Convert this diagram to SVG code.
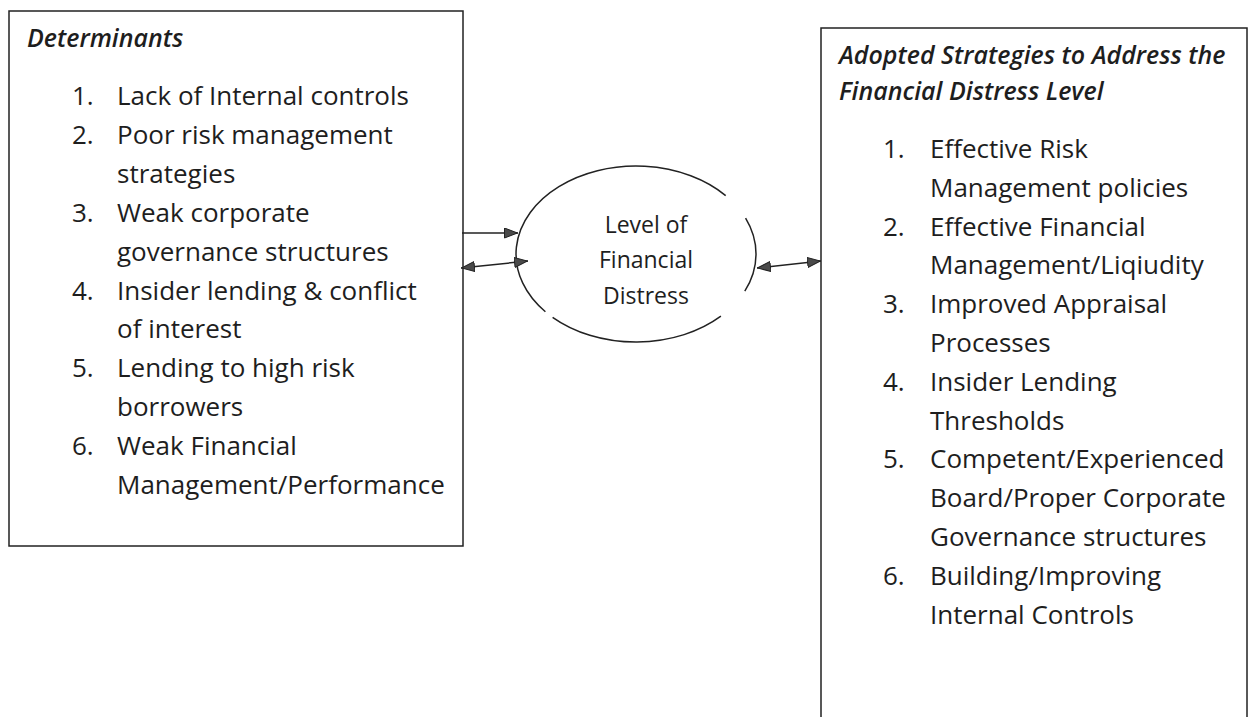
<svg xmlns="http://www.w3.org/2000/svg" width="1251" height="717" viewBox="0 0 1251 717">
<style>
text{font-family:"Open Sans","Liberation Sans",sans-serif;fill:#1e1e1e;font-size:26px}
.h{font-style:italic;font-weight:600;font-size:25px}
.c{font-size:23px;text-anchor:middle}
.box{fill:#fff;stroke:#222;stroke-width:1.5}
.ln{fill:none;stroke:#222;stroke-width:1.5}
</style>
<defs>
<marker id="ah" viewBox="0 0 14 11" refX="14" refY="5.5" markerWidth="14" markerHeight="11" markerUnits="userSpaceOnUse" orient="auto-start-reverse">
<path d="M0.5,0.5 L13.5,5.5 L0.5,10.5 Z" fill="#4a4a4a" stroke="#222" stroke-width="1"/>
</marker>
</defs>
<rect width="1251" height="717" fill="#fff"/>
<g id="determinants">
<rect class="box" x="9" y="11" width="454" height="535"/>
<text class="h" x="27" y="47">Determinants</text>
<text x="72" y="105">1.</text><text x="117" y="105">Lack of Internal controls</text>
<text x="72" y="144">2.</text><text x="117" y="144">Poor risk management</text>
<text x="117" y="183">strategies</text>
<text x="72" y="222">3.</text><text x="117" y="222">Weak corporate</text>
<text x="117" y="261">governance structures</text>
<text x="72" y="300">4.</text><text x="117" y="300">Insider lending &amp; conflict</text>
<text x="117" y="338">of interest</text>
<text x="72" y="377">5.</text><text x="117" y="377">Lending to high risk</text>
<text x="117" y="416">borrowers</text>
<text x="72" y="455">6.</text><text x="117" y="455">Weak Financial</text>
<text x="117" y="494">Management/Performance</text>
</g>
<g id="strategies">
<rect class="box" x="821" y="28" width="426" height="700"/>
<text class="h" x="839" y="64">Adopted Strategies to Address the</text>
<text class="h" x="839" y="100">Financial Distress Level</text>
<text x="883" y="158">1.</text><text x="930" y="158">Effective Risk</text>
<text x="930" y="197">Management policies</text>
<text x="883" y="236">2.</text><text x="930" y="236">Effective Financial</text>
<text x="930" y="274">Management/Liqiudity</text>
<text x="883" y="313">3.</text><text x="930" y="313">Improved Appraisal</text>
<text x="930" y="352">Processes</text>
<text x="883" y="391">4.</text><text x="930" y="391">Insider Lending</text>
<text x="930" y="430">Thresholds</text>
<text x="883" y="468">5.</text><text x="930" y="468">Competent/Experienced</text>
<text x="930" y="507">Board/Proper Corporate</text>
<text x="930" y="546">Governance structures</text>
<text x="883" y="585">6.</text><text x="930" y="585">Building/Improving</text>
<text x="930" y="624">Internal Controls</text>
</g>
<g id="distress">
<path class="ln" d="M745.6,218.2 A120,88 0 0 1 744.8,291.2"/>
<path class="ln" d="M720.9,316.2 A120,88 0 0 1 552.6,317.3"/>
<path class="ln" d="M545.4,311.7 A120,88 0 0 1 558.9,186.6 A120,88 0 0 1 725.7,195.6"/>
<text class="c" x="646" y="233">Level of</text>
<text class="c" x="646" y="268">Financial</text>
<text class="c" x="646" y="304">Distress</text>
</g>
<g id="connectors">
<line class="ln" x1="462" y1="233" x2="518" y2="233" marker-end="url(#ah)"/>
<line class="ln" x1="461" y1="268" x2="528" y2="261" marker-start="url(#ah)" marker-end="url(#ah)"/>
<line class="ln" x1="757" y1="268" x2="821" y2="261" marker-start="url(#ah)" marker-end="url(#ah)"/>
</g>
</svg>
